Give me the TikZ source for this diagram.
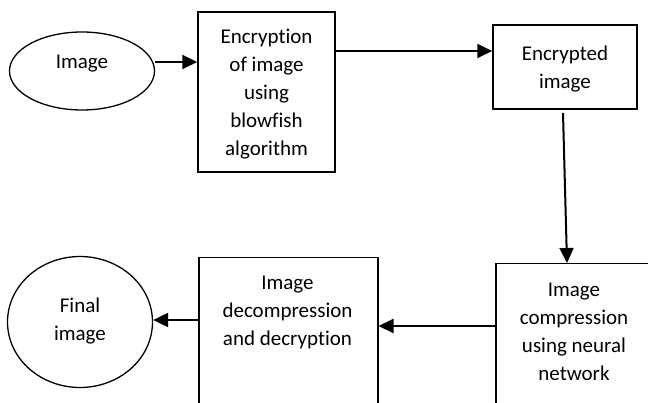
\documentclass[tikz,border=0pt]{standalone}
\usepackage{fontspec}
\setmainfont{Carlito}[Ligatures=NoCommon]
\usetikzlibrary{arrows.meta,shapes.geometric}
\begin{document}
\begin{tikzpicture}[x=1pt,y=-1pt,
  every node/.style={font=\fontsize{21}{28}\selectfont, align=center},
  boxnode/.style={draw, line width=1.5pt, rectangle, inner sep=0pt},
  ellnode/.style={draw, line width=1.3pt, ellipse, inner sep=0pt},
  txt/.style={inner sep=0pt},
  conn/.style={line width=2pt, -{Triangle[length=15pt,width=14pt]}}]
\clip (0,0) rectangle (648,403);
\fill[white] (0,0) rectangle (648,403);
% nodes
\node[ellnode, minimum width=145pt, minimum height=78pt] (img) at (82,71) {};
\node[txt] (imgt) at (82,64) {Image};
\node[boxnode, minimum width=137pt, minimum height=160pt] (encr) at (266.5,92) {};
\node[txt] (encrt) at (266.5,94) {Encryption\\of image\\using\\blowfish\\algorithm};
\node[boxnode, minimum width=144pt, minimum height=84pt] (enc) at (565,67) {};
\node[txt] (enct) at (565,69) {Encrypted\\image};
\node[boxnode, minimum width=160pt, minimum height=180pt, anchor=north west] (comp) at (495,263) {};
\node[txt] (compt) at (574,332) {Image\\compression\\using neural\\network};
\node[boxnode, minimum width=179pt, minimum height=180pt, anchor=north west] (dec) at (198,257) {};
\node[txt] (dect) at (287.5,312) {Image\\decompression\\and decryption};
\node[ellnode, minimum width=145pt, minimum height=131pt] (fin) at (80,322) {};
\node[txt] (fint) at (80,321) {Final\\image};
% connectors
\draw[conn] (img.east |- 0,62) -- (encr.west |- 0,62);
\draw[conn] (encr.east |- 0,51) -- (enc.west |- 0,51);
\coordinate (vs) at (563,113);
\draw[conn] (vs) -- (comp.north -| 567,0);
\draw[conn] (comp.west |- 0,326) -- (dec.east |- 0,326);
\draw[conn] (dec.west |- 0,320) -- (fin.east |- 0,320);
\end{tikzpicture}
\end{document}
